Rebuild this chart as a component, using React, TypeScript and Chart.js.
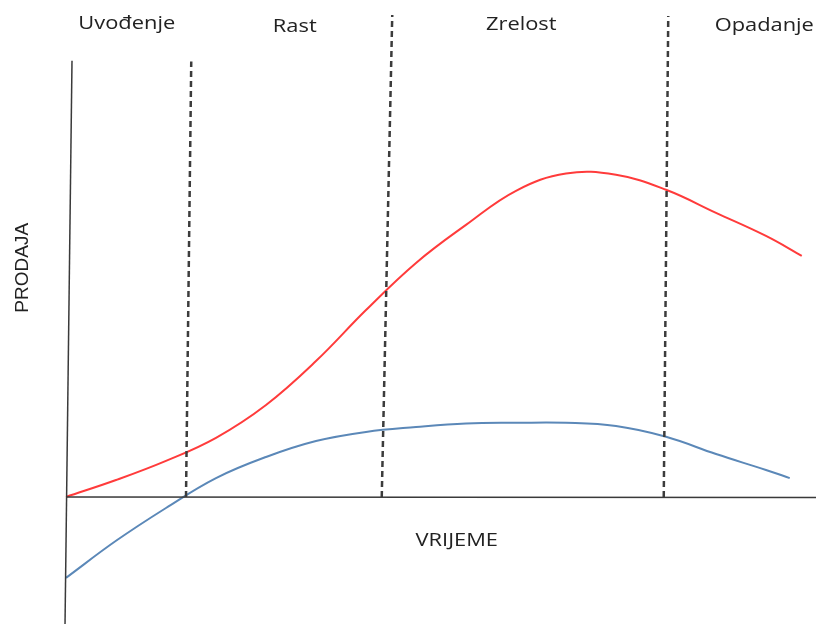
import React, { useEffect, useRef } from "react";
import { Chart, registerables } from "chart.js";

Chart.register(...registerables);

// Time (0..100) and sales (0 at the time axis) values
const salesTime = [0, 6.67, 13.33, 20, 26.67, 33.33, 40, 46.67, 53.33, 60, 66.67, 73.33, 80, 86.67, 93.33, 98.1];
const salesValues = [0, 5.2, 11.1, 18.2, 28.3, 41.8, 57.5, 72, 83.7, 94.2, 99.5, 99.1, 94.5, 87.4, 80.3, 74.2];

const profitTime = [0, 6.67, 13.33, 20, 26.67, 33.33, 40, 46.67, 53.33, 60, 66.67, 73.33, 80, 86.67, 93.33, 96.5];
const profitValues = [-24.9, -13.5, -3.4, 5.8, 12.3, 17.2, 20, 21.5, 22.6, 22.8, 22.8, 21.8, 18.5, 13.2, 8.3, 5.8];

// Phase dividers: time at the axis, time at the top, top value
const dividerBottomTime = [16, 42.1, 79.7];
const dividerTopTime = [16.7, 43.5, 80.3];
const dividerTopValue = [134, 148.3, 148];

// Phase labels
const phaseLabels = ["Uvođenje", "Rast", "Zrelost", "Opadanje"];
const phaseLabelTime = [8.1, 30.5, 60.7, 93.1];
const phaseLabelValue = [145.5, 144.6, 145.2, 144.9];

const xAxisTitle = "VRIJEME";
const yAxisTitle = "PRODAJA";

export default function App() {
  const ref = useRef<HTMLCanvasElement | null>(null);

  useEffect(() => {
    if (!ref.current) return;
    const toPts = (xs: number[], ys: number[]) => xs.map((x, i) => ({ x, y: ys[i] }));

    const dividerSets = dividerBottomTime.map((t, i) => ({
      data: [{ x: t, y: 0 }, { x: dividerTopTime[i], y: dividerTopValue[i] }],
      borderColor: "#3c3c3c",
      borderWidth: 2.5,
      borderDash: [6, 4],
      pointRadius: 0,
      tension: 0,
    }));

    const textPlugin = {
      id: "texts",
      afterDatasetsDraw(chart: any) {
        const { ctx, scales } = chart;
        const sx = scales.x, sy = scales.y;
        ctx.save();
        ctx.fillStyle = "#222222";
        ctx.textAlign = "center";
        ctx.textBaseline = "middle";
        const drawStretched = (text: string, x: number, y: number, stretch: number, font: string) => {
          ctx.save();
          ctx.font = font;
          ctx.translate(x, y);
          ctx.scale(stretch, 1);
          ctx.fillText(text, 0, 0);
          ctx.restore();
        };
        phaseLabels.forEach((l, i) => {
          drawStretched(l, sx.getPixelForValue(phaseLabelTime[i]), sy.getPixelForValue(phaseLabelValue[i]), 1.15, '19px "Open Sans"');
        });
        drawStretched(xAxisTitle, sx.getPixelForValue(52.1), sy.getPixelForValue(-13.5), 1.15, '19px "Open Sans"');
        ctx.save();
        ctx.font = '19px "Liberation Sans"';
        ctx.translate(sx.getPixelForValue(-5.7), sy.getPixelForValue(70.5));
        ctx.rotate(-Math.PI / 2);
        ctx.fillText(yAxisTitle, 0, 0);
        ctx.restore();
        ctx.restore();
      },
    };

    const chart = new Chart(ref.current, {
      type: "line",
      data: {
        datasets: [
          {
            data: [{ x: 0.8, y: 134.2 }, { x: -0.13, y: -39.1 }],
            borderColor: "#3a3a3a",
            borderWidth: 1.5,
            pointRadius: 0,
            tension: 0,
          },
          {
            data: [{ x: 0, y: 0 }, { x: 100, y: -0.2 }],
            borderColor: "#3a3a3a",
            borderWidth: 1.5,
            pointRadius: 0,
            tension: 0,
          },
          ...dividerSets,
          {
            data: toPts(salesTime, salesValues),
            borderColor: "#ff3b3b",
            borderWidth: 2,
            pointRadius: 0,
            tension: 0.4,
          },
          {
            data: toPts(profitTime, profitValues),
            borderColor: "#5b88b8",
            borderWidth: 2,
            pointRadius: 0,
            tension: 0.4,
          },
        ] as any,
      },
      options: {
        animation: false,
        responsive: false,
        devicePixelRatio: 1,
        layout: { padding: 0 },
        plugins: { legend: { display: false }, tooltip: { enabled: false } },
        scales: {
          x: { type: "linear", min: -8.8, max: 100, display: false },
          y: { type: "linear", min: -39.1, max: 152.9, display: false },
        },
      },
      plugins: [textPlugin],
    });
    return () => chart.destroy();
  }, []);

  return (
    <div style={{ position: "fixed", left: 0, top: 0, width: 816, height: 624, background: "#fff" }}>
      <canvas ref={ref} width={816} height={624} style={{ width: 816, height: 624 }} />
    </div>
  );
}
